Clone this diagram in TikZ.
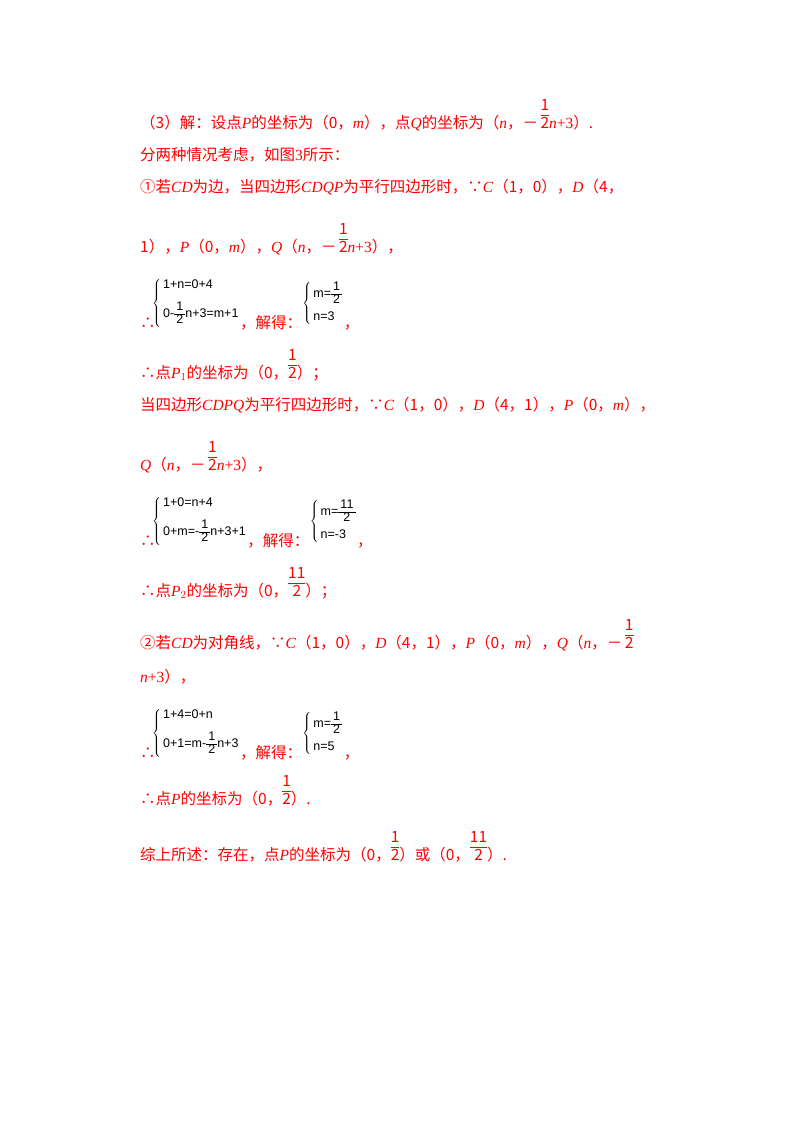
\documentclass[tikz,border=0pt]{standalone}
\usepackage{fontspec}
\setmainfont{Noto Sans CJK SC}
\newfontfamily\serf{Liberation Serif}
\newfontfamily\sansf{Liberation Sans}
\setlength{\arrayrulewidth}{0.7pt}
\newcommand\iv[1]{{\serf\itshape #1}}
\newcommand\ufr[2]{{\renewcommand\arraystretch{0.95}\begin{tabular}[b]{@{}c@{}}#1\\\hline #2\end{tabular}}}
\newcommand\sfr[2]{{\renewcommand\arraystretch{0.85}\begin{tabular}[c]{@{\,}c@{\,}}#1\\\hline #2\end{tabular}}}
\newcommand\sys[2]{$\left\{\vcenter{\hbox{\begin{tabular}{@{\hspace{2pt}}l@{}}#1\\[9pt]#2\end{tabular}}}\right.$}
\begin{document}
\begin{tikzpicture}[x=1pt,y=-1pt,
  ln/.style={anchor=base west,inner sep=0pt,text=red,font=\fontsize{15.5}{18}\selectfont},
  eq/.style={anchor=west,inner sep=0pt,text=black,font=\sansf\fontsize{12.5}{14}\selectfont}]
\useasboundingbox (0,0) rectangle (800,1132);
\node[ln] (l1) at (140,128) {（3）解：设点\iv{P}的坐标为（0，\iv{m}），点\iv{Q}的坐标为（\iv{n}，－\,\ufr{1}{2}\iv{n}{\serf+3}）.};
\node[ln] (l2) at (140,160) {分两种情况考虑，如图{\serf 3}所示：};
\node[ln] (l3) at (140,192) {①若\iv{CD}为边，当四边形\iv{CDQP}为平行四边形时，∵\iv{C}（1，0），\iv{D}（4，};
\node[ln] (l4) at (140,252) {1），\iv{P}（0，\iv{m}），\iv{Q}（\iv{n}，－\,\ufr{1}{2}\iv{n}{\serf+3}），};
\node[ln] (t1) at (140,328) {∴};
\node[eq] (s1) at (152,303) {\sys{1+n=0+4}{0-\sfr{1}{2}n+3=m+1}};
\node[ln] (j1) at (s1.east|-t1.base) {，解得：};
\node[eq] (r1) at (j1.east|-s1.west) {\sys{m=\sfr{1}{2}}{n=3}};
\node[ln] (c1) at (r1.east|-t1.base) {，};
\node[ln] (l5) at (140,378) {∴点\iv{P}$_1$的坐标为（0，\ufr{1}{2}）；};
\node[ln] (l6) at (140,410) {当四边形\iv{CDPQ}为平行四边形时，∵\iv{C}（1，0），\iv{D}（4，1），\iv{P}（0，\iv{m}），};
\node[ln] (l7) at (140,470) {\iv{Q}（\iv{n}，－\,\ufr{1}{2}\iv{n}{\serf+3}），};
\node[ln] (t2) at (140,546) {∴};
\node[eq] (s2) at (152,521) {\sys{1+0=n+4}{0+m=-\sfr{1}{2}n+3+1}};
\node[ln] (j2) at (s2.east|-t2.base) {，解得：};
\node[eq] (r2) at (j2.east|-s2.west) {\sys{m=\sfr{11}{2}}{n=-3}};
\node[ln] (c2) at (r2.east|-t2.base) {，};
\node[ln] (l8) at (140,596) {∴点\iv{P}$_2$的坐标为（0，\ufr{11}{2}）；};
\node[ln] (l9) at (140,648) {②若\iv{CD}为对角线，∵\iv{C}（1，0），\iv{D}（4，1），\iv{P}（0，\iv{m}），\iv{Q}（\iv{n}，－\,\ufr{1}{2}};
\node[ln] (l10) at (140,682) {\iv{n}{\serf+3}），};
\node[ln] (t3) at (140,758) {∴};
\node[eq] (s3) at (152,733) {\sys{1+4=0+n}{0+1=m-\sfr{1}{2}n+3}};
\node[ln] (j3) at (s3.east|-t3.base) {，解得：};
\node[eq] (r3) at (j3.east|-s3.west) {\sys{m=\sfr{1}{2}}{n=5}};
\node[ln] (c3) at (r3.east|-t3.base) {，};
\node[ln] (l11) at (140,804) {∴点\iv{P}的坐标为（0，\ufr{1}{2}）.};
\node[ln] (l12) at (140,860) {综上所述：存在，点\iv{P}的坐标为（0，\ufr{1}{2}）或（0，\ufr{11}{2}）.};
\end{tikzpicture}
\end{document}
